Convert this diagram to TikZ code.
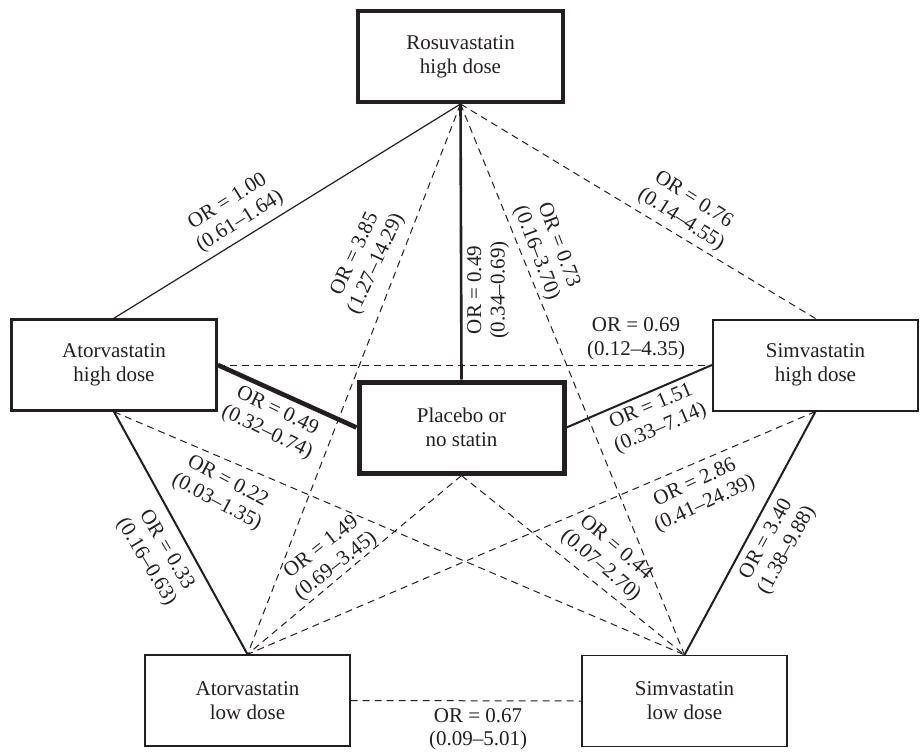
\documentclass[tikz,border=0pt]{standalone}
\usepackage{fontspec}
\setmainfont{Liberation Serif}
\definecolor{ink}{RGB}{35,31,32}
\begin{document}
\begin{tikzpicture}[x=1pt,y=-1pt,
  box/.style={draw=ink, rectangle, minimum width=205pt, minimum height=91pt, align=center, text=ink, font=\fontsize{21}{24}\selectfont, inner sep=0pt},
  lbl/.style={align=center, text=ink, font=\fontsize{21}{23.5}\selectfont, inner sep=0pt},
  edgeA/.style={draw=ink, line width=1.2pt},
  edgeB/.style={draw=ink, line width=2pt},
  edgeC/.style={draw=ink, line width=2.6pt},
  edgeD/.style={draw=ink, line width=4.6pt},
  dsh/.style={draw=ink, line width=1pt, dash pattern=on 7pt off 5pt},
]
\useasboundingbox (0,0) rectangle (923,754);
% boxes
\node[box, line width=4pt] (ros) at (460.5,56.5) {Rosuvastatin\\high dose};
\node[box, line width=2.6pt] (ath) at (114,365) {Atorvastatin\\high dose};
\node[box, line width=5pt] (pla) at (461.5,427.5) {Placebo or\\no statin};
\node[box, line width=2pt] (simh) at (815.5,365) {Simvastatin\\high dose};
\node[box, line width=1.3pt] (atl) at (247.5,700.5) {Atorvastatin\\low dose};
\node[box, line width=1.3pt] (siml) at (684.5,701) {Simvastatin\\low dose};
% connectors
\draw[edgeA] (ros.south) -- (ath.north);
\draw[dsh] (ros.south) -- (atl.north);
\draw[edgeC] (ros.south) -- (pla.north);
\draw[dsh] (ros.south) -- (siml.north);
\draw[dsh] (ros.south) -- (simh.north);
\draw[dsh] (ath.east) -- (simh.west);
\draw[edgeD] (ath.east) -- (pla.west);
\draw[edgeB] (pla.east) -- (simh.west);
\draw[dsh] (ath.south) -- (siml.north);
\draw[edgeB] (ath.south) -- (atl.north);
\draw[dsh] (pla.south) -- (atl.north);
\draw[dsh] (pla.south) -- (siml.north);
\draw[dsh] (simh.south) -- (atl.north);
\draw[edgeB] (simh.south) -- (siml.north);
\draw[dsh] (atl.east) -- (siml.west);
% labels
\node[lbl, rotate=32] (l1) at (234,212) {OR = 1.00\\(0.61–1.64)};
\node[lbl, rotate=65] (l2) at (366,259) {OR = 3.85\\(1.27–14.29)};
\node[lbl, rotate=90] (l3) at (488,290) {OR = 0.49\\(0.34–0.69)};
\node[lbl, rotate=-69.5] (l4) at (547,249) {OR = 0.73\\(0.16–3.70)};
\node[lbl, rotate=-32.5] (l5) at (687,210) {OR = 0.76\\(0.14–4.55)};
\node[lbl] (l6) at (636,339) {OR = 0.69\\(0.12–4.35)};
\node[lbl, rotate=-26] (l7) at (272,422) {OR = 0.49\\(0.32–0.74)};
\node[lbl, rotate=23] (l8) at (656,418) {OR = 1.51\\(0.33–7.14)};
\node[lbl, rotate=-28] (l9) at (222,492) {OR = 0.22\\(0.03–1.35)};
\node[lbl, rotate=-59] (l10) at (156,556) {OR = 0.33\\(0.16–0.63)};
\node[lbl, rotate=38] (l11) at (329,557) {OR = 1.49\\(0.69–3.45)};
\node[lbl, rotate=25] (l12) at (700,494) {OR = 2.86\\(0.41–24.39)};
\node[lbl, rotate=-40.5] (l13) at (608,557) {OR = 0.44\\(0.07–2.70)};
\node[lbl, rotate=61] (l14) at (777,545) {OR = 3.40\\(1.38–9.88)};
\node[lbl] (l15) at (478,729) {OR = 0.67\\(0.09–5.01)};
\end{tikzpicture}
\end{document}
